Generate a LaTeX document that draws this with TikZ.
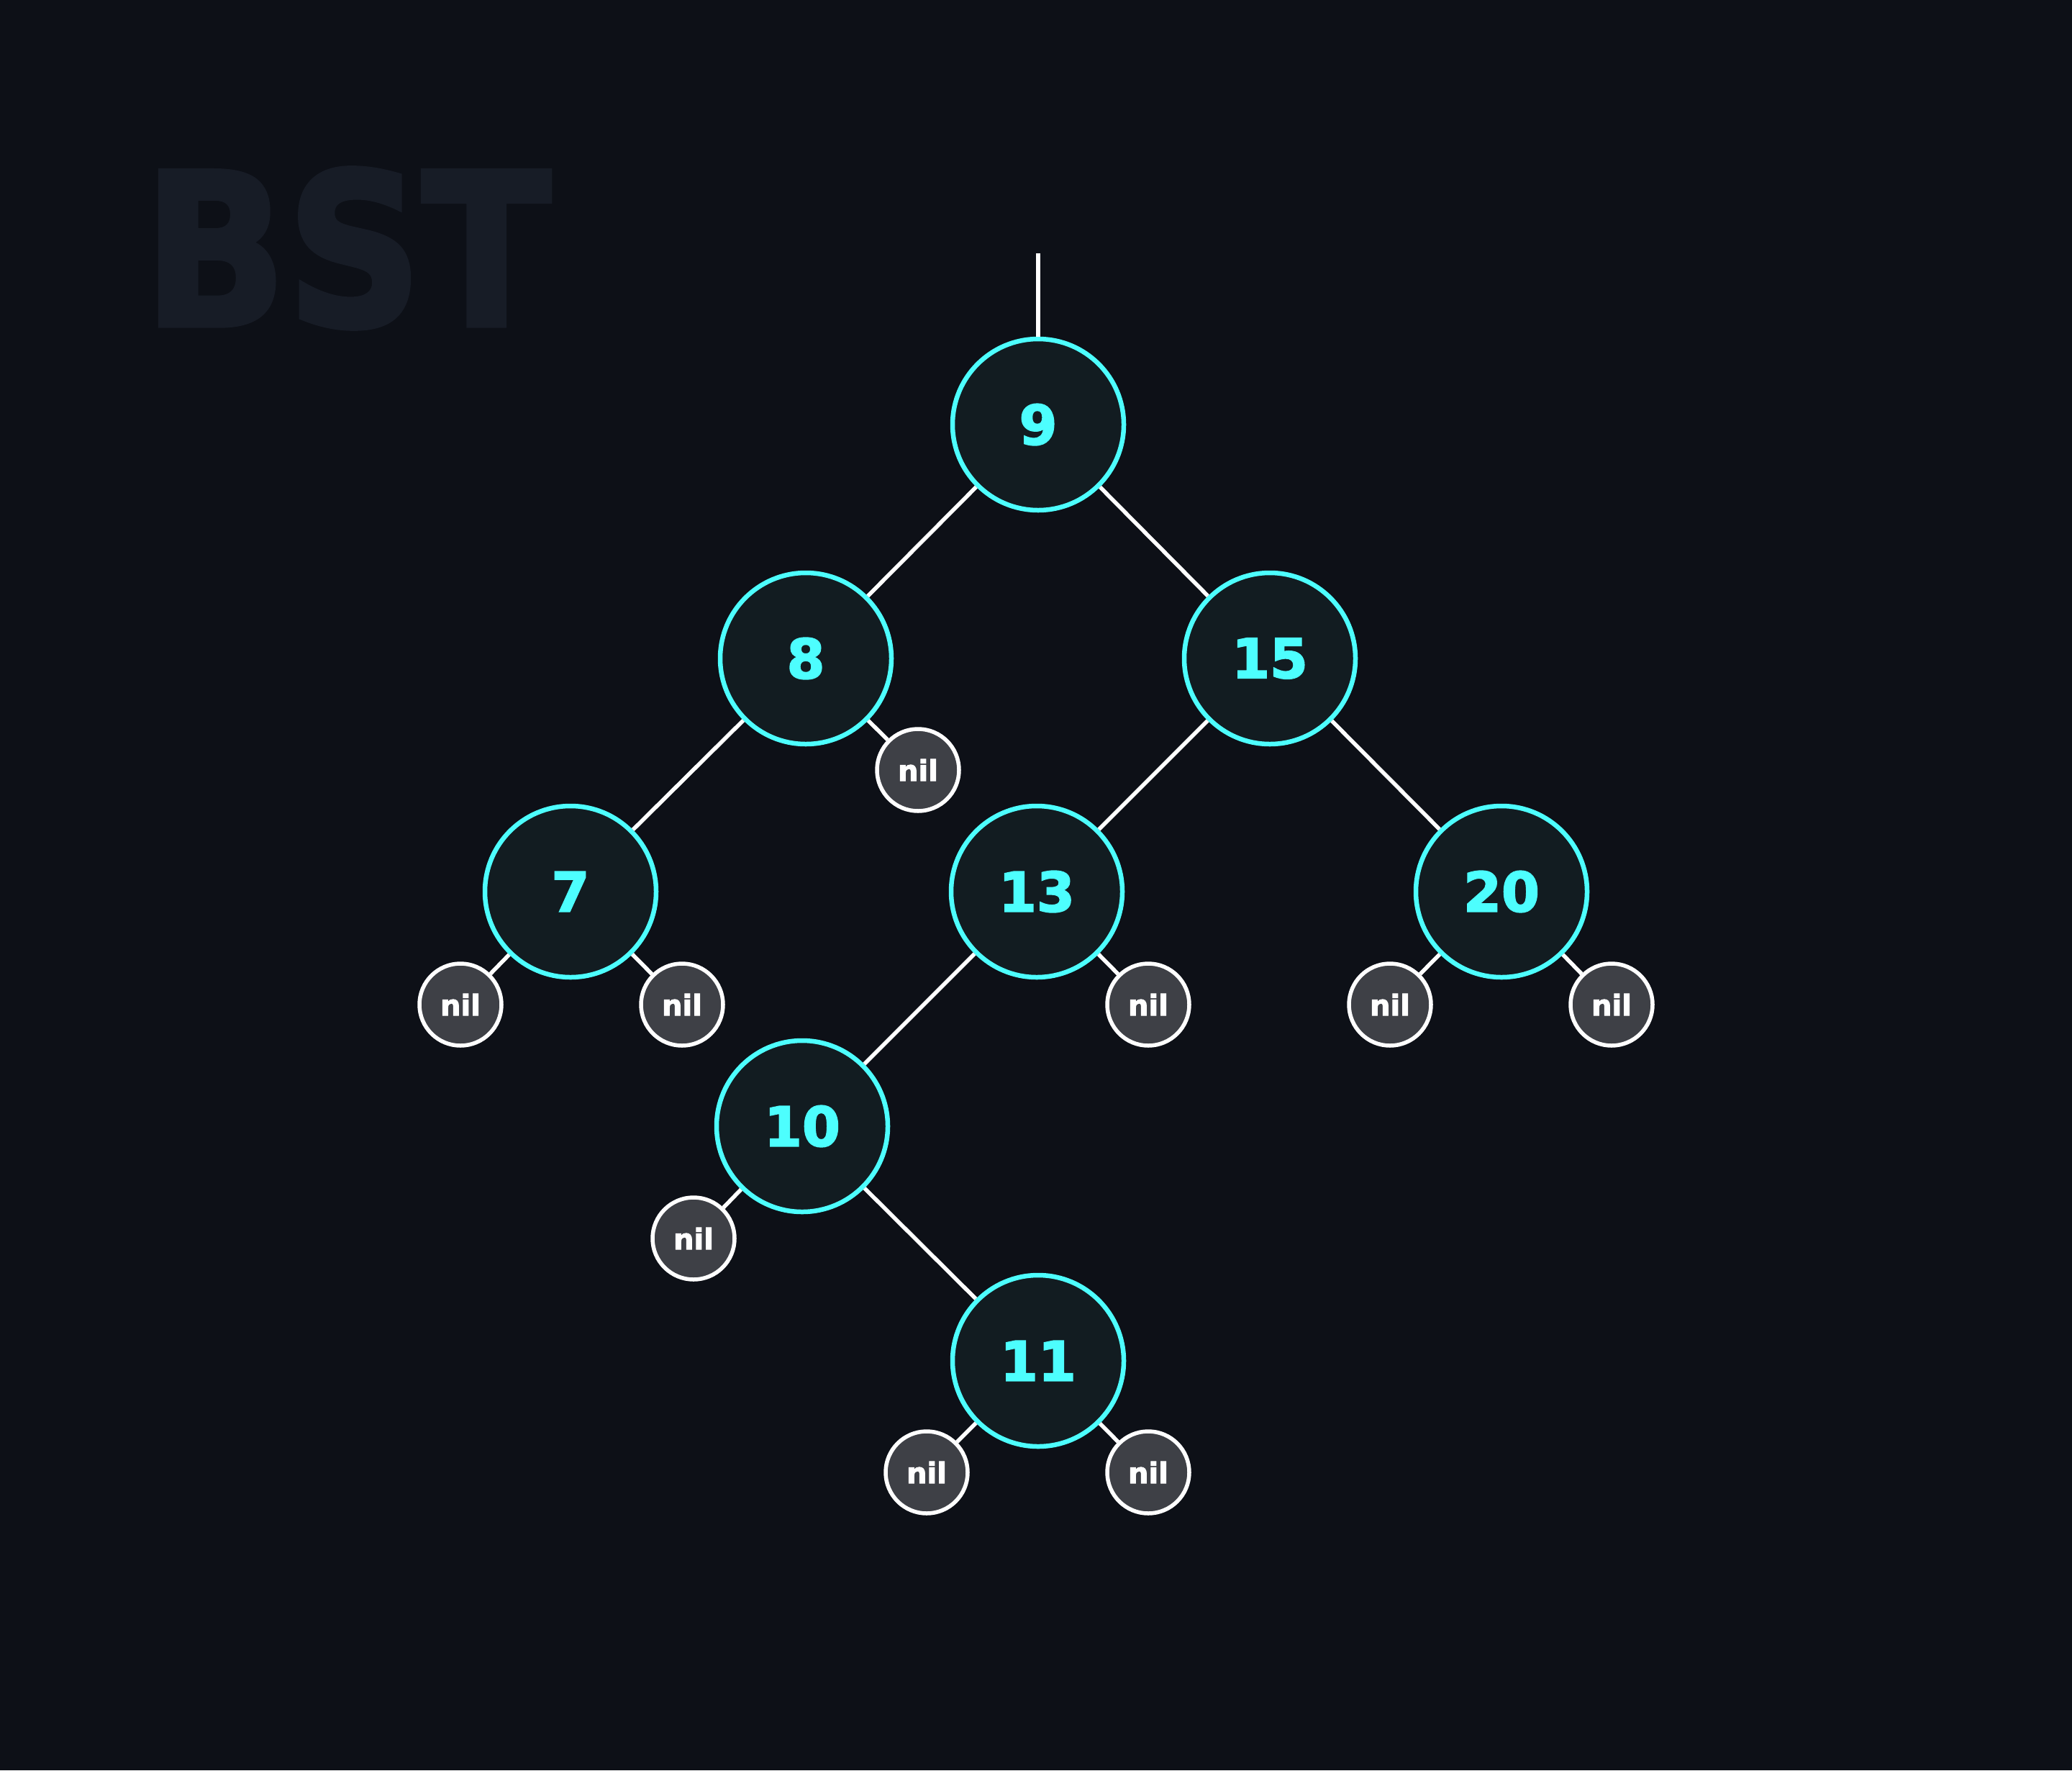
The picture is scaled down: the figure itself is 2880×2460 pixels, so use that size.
\documentclass[tikz,border=0pt]{standalone}
\usepackage{fontspec}
\setmainfont{DejaVu Sans}
\newfontfamily\heavyfont{DejaVu Sans}[UprightFeatures={FakeBold=2.5}, BoldFeatures={FakeBold=2.5}]
\definecolor{bgc}{HTML}{0D1017}
\definecolor{nodefill}{HTML}{121C21}
\definecolor{cyanc}{HTML}{4DFEFE}
\definecolor{nilfill}{HTML}{3E4046}
\definecolor{titlec}{HTML}{171C26}
\tikzset{
  keynode/.style={circle, draw=cyanc, line width=6.5pt, fill=nodefill, minimum size=238pt, inner sep=0pt,
    text=cyanc, font=\fontsize{76}{90}\heavyfont\bfseries},
  nilnode/.style={circle, draw=white, line width=5.5pt, fill=nilfill, minimum size=114pt, inner sep=0pt,
    text=white, font=\fontsize{40}{48}\heavyfont\bfseries},
  edge/.style={draw=white, line width=5.5pt}
}
\begin{document}
\begin{tikzpicture}[x=1pt, y=-1pt]
\fill[bgc] (0,0) rectangle (2880,2460);
\useasboundingbox (0,0) rectangle (2880,2460);
\node[anchor=base west, inner sep=0pt, text=titlec, font=\fontsize{294}{300}\heavyfont\bfseries] (title) at (199,452) {\scalebox{0.89}[1]{BST}};
% key nodes
\node[keynode] (n9)  at (1443,590)  {9};
\node[keynode] (n8)  at (1120,915)  {8};
\node[keynode] (n15) at (1765,915)  {15};
\node[keynode] (n7)  at (793,1239)  {7};
\node[keynode] (n13) at (1441,1239) {13};
\node[keynode] (n20) at (2087,1239) {20};
\node[keynode] (n10) at (1115,1565) {10};
\node[keynode] (n11) at (1443,1891) {11};
% nil nodes
\node[nilnode] (nil8r)  at (1276,1070) {nil};
\node[nilnode] (nil7l)  at (640,1396)  {nil};
\node[nilnode] (nil7r)  at (948,1396)  {nil};
\node[nilnode] (nil13r) at (1596,1396) {nil};
\node[nilnode] (nil20l) at (1932,1396) {nil};
\node[nilnode] (nil20r) at (2240,1396) {nil};
\node[nilnode] (nil10l) at (964,1721)  {nil};
\node[nilnode] (nil11l) at (1288,2046) {nil};
\node[nilnode] (nil11r) at (1596,2046) {nil};
% root pointer
\coordinate (top) at (1443,352);
\draw[edge] (top) -- (n9);
% edges
\draw[edge] (n9) -- (n8);
\draw[edge] (n9) -- (n15);
\draw[edge] (n8) -- (n7);
\draw[edge] (n8) -- (nil8r);
\draw[edge] (n15) -- (n13);
\draw[edge] (n15) -- (n20);
\draw[edge] (n7) -- (nil7l);
\draw[edge] (n7) -- (nil7r);
\draw[edge] (n13) -- (n10);
\draw[edge] (n13) -- (nil13r);
\draw[edge] (n20) -- (nil20l);
\draw[edge] (n20) -- (nil20r);
\draw[edge] (n10) -- (nil10l);
\draw[edge] (n10) -- (n11);
\draw[edge] (n11) -- (nil11l);
\draw[edge] (n11) -- (nil11r);
\end{tikzpicture}
\end{document}
